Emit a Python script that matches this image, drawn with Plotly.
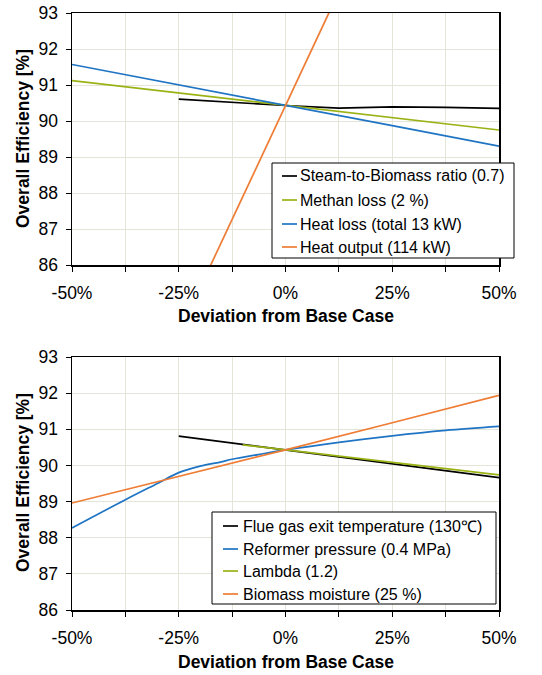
import plotly.graph_objects as go

# Positions below are given in window pixels (542x675) and converted to
# paper fractions; the page's default body margin is removed in post_script.
W, H = 542, 675
FONT = "Liberation Sans, Arial, sans-serif"

def px(x):
    return x / W

def py(y):
    return 1 - y / H

# ---------------- data ----------------
tick_vals = [-50, -37.5, -25, -12.5, 0, 12.5, 25, 37.5, 50]
tick_text = ["-50%", "", "-25%", "", "0%", "", "25%", "", "50%"]
y_ticks = [86, 87, 88, 89, 90, 91, 92, 93]

# top chart
steam_x = [-25, -12.5, 0, 12.5, 25, 37.5, 50]
steam_y = [90.61, 90.51, 90.43, 90.36, 90.39, 90.38, 90.35]
methan_x = [-50, -25, 0, 25, 50]
methan_y = [91.12, 90.78, 90.43, 90.09, 89.75]
heatloss_x = [-50, -25, 0, 25, 50]
heatloss_y = [91.57, 91.01, 90.43, 89.87, 89.30]
heatout_x = [-20, -10, 0, 10, 20]
heatout_y = [85.37, 87.90, 90.43, 92.96, 95.49]

# bottom chart
flue_x = [-25, 0, 25, 50]
flue_y = [90.81, 90.43, 90.05, 89.66]
reform_x = [-50, -37.5, -30, -25, -20, -15, -12.5, -5, 0, 12.5, 25, 37.5, 50]
reform_y = [88.27, 89.05, 89.50, 89.80, 89.98, 90.10, 90.17, 90.33, 90.43,
            90.64, 90.82, 90.97, 91.08]
lambda_x = [-10, 0, 25, 50]
lambda_y = [90.57, 90.43, 90.09, 89.74]
moist_x = [-50, -25, 0, 25, 50]
moist_y = [88.96, 89.69, 90.43, 91.18, 91.94]

top_names = ["Steam-to-Biomass ratio (0.7)", "Methan loss (2 %)",
             "Heat loss (total 13 kW)", "Heat output (114 kW)"]
bot_names = ["Flue gas exit temperature (130\u2103)", "Reformer pressure (0.4 MPa)",
             "Lambda (1.2)", "Biomass moisture (25 %)"]

BLACK = "#000000"
OLIVE = "#9bb215"
BLUE = "#1f74c4"
ORANGE = "#ee7c34"
top_colors = [BLACK, OLIVE, BLUE, ORANGE]
bot_colors = [BLACK, BLUE, OLIVE, ORANGE]

fig = go.Figure()

def add(x, y, name, color, xa, ya, shape="linear"):
    fig.add_trace(go.Scatter(
        x=x, y=y, name=name, mode="lines",
        line=dict(color=color, width=1.7, shape=shape),
        xaxis=xa, yaxis=ya, showlegend=False))

add(steam_x, steam_y, top_names[0], top_colors[0], "x", "y")
add(methan_x, methan_y, top_names[1], top_colors[1], "x", "y")
add(heatloss_x, heatloss_y, top_names[2], top_colors[2], "x", "y")
add(heatout_x, heatout_y, top_names[3], top_colors[3], "x", "y")

add(flue_x, flue_y, bot_names[0], bot_colors[0], "x2", "y2")
add(reform_x, reform_y, bot_names[1], bot_colors[1], "x2", "y2", "spline")
add(lambda_x, lambda_y, bot_names[2], bot_colors[2], "x2", "y2")
add(moist_x, moist_y, bot_names[3], bot_colors[3], "x2", "y2")

GRID = "#e4e4d9"
xdom = [px(72), px(499)]
top_dom = [py(265), py(13)]
bot_dom = [py(610), py(357)]

def xaxis(anchor):
    return dict(domain=xdom, anchor=anchor, range=[-50, 50], automargin=False,
                tickmode="array", tickvals=tick_vals, ticktext=tick_text,
                showgrid=True, gridcolor=GRID, gridwidth=1,
                showline=True, linecolor=BLACK, linewidth=1.5, mirror=True,
                ticks="outside", ticklen=5, tickcolor=BLACK, tickwidth=1,
                ticklabelstandoff=6, ticklabeloverflow="allow",
                tickfont=dict(family=FONT, size=17.5, color=BLACK),
                zeroline=False, fixedrange=True)

def yaxis(anchor, dom):
    return dict(domain=dom, anchor=anchor, range=[86, 93], automargin=False,
                tickmode="array", tickvals=y_ticks,
                showgrid=True, gridcolor=GRID, gridwidth=1,
                showline=True, linecolor=BLACK, linewidth=1.5, mirror=True,
                ticks="outside", ticklen=5, tickcolor=BLACK, tickwidth=1,
                ticklabelstandoff=4, ticklabeloverflow="allow",
                tickfont=dict(family=FONT, size=17.5, color=BLACK),
                zeroline=False, fixedrange=True)

fig.update_layout(
    width=W, height=H,
    margin=dict(l=0, r=0, t=0, b=0, autoexpand=False),
    paper_bgcolor="white", plot_bgcolor="white",
    font=dict(family=FONT, color=BLACK),
    xaxis=xaxis("y"), yaxis=yaxis("x", top_dom),
    xaxis2=xaxis("y2"), yaxis2=yaxis("x2", bot_dom),
    showlegend=False,
)

title_font = dict(family=FONT, size=17.5, color=BLACK, weight="bold")
for ypx in (316, 662):
    fig.add_annotation(text="Deviation from Base Case", xref="paper", yref="paper",
                       x=px((72 + 499) / 2), y=py(ypx), showarrow=False,
                       xanchor="center", yanchor="middle", font=title_font)
for ypx in (139, 483):
    fig.add_annotation(text="Overall Efficiency [%]", xref="paper", yref="paper",
                       x=px(23), y=py(ypx), showarrow=False, textangle=-90,
                       xanchor="center", yanchor="middle", font=title_font)

# ---------------- legends (box, sample line, label) ----------------
def legend_box(x0, x1, y0, y1, rows, names, colors, line_x0, line_x1, text_x):
    fig.add_shape(type="rect", xref="paper", yref="paper",
                  x0=px(x0), x1=px(x1), y0=py(y1), y1=py(y0),
                  line=dict(color=BLACK, width=1), fillcolor="white", layer="above")
    for yr, name, col in zip(rows, names, colors):
        fig.add_shape(type="line", xref="paper", yref="paper",
                      x0=px(line_x0), x1=px(line_x1), y0=py(yr), y1=py(yr),
                      line=dict(color=col, width=1.7), layer="above")
        fig.add_annotation(text=name, xref="paper", yref="paper",
                           x=px(text_x), y=py(yr), showarrow=False,
                           xanchor="left", yanchor="middle",
                           font=dict(family=FONT, size=16, color=BLACK))

legend_box(272, 514, 163, 258, [176, 200, 224, 247], top_names, top_colors,
           282, 297, 298)
legend_box(212, 496, 512, 604, [526, 549, 571, 594], bot_names, bot_colors,
           223, 238, 241)

fig.write_html("out.html",
               config={"displayModeBar": False, "staticPlot": True},
               post_script="document.body.style.margin='0';"
                           "document.body.style.overflow='hidden';")
